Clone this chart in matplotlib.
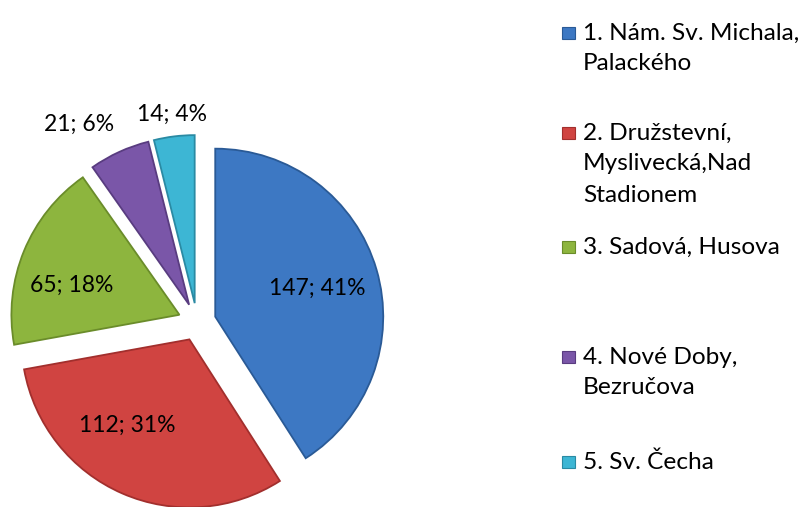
import numpy as np
import matplotlib
matplotlib.use("Agg")
import matplotlib.pyplot as plt
from matplotlib.patches import Rectangle

plt.rcParams['font.family'] = ['Lato', 'DejaVu Sans']

# ---- data ----
categories = ["1. Nám. Sv. Michala,\nPalackého",
              "2. Družstevní,\nMyslivecká,Nad\nStadionem",
              "3. Sadová, Husova",
              "4. Nové Doby,\nBezručova",
              "5. Sv. Čecha"]
values = [147, 112, 65, 21, 14]
percents = [41, 31, 18, 6, 4]
colors = ["#3D78C3", "#D04441", "#8DB53E", "#7A56A8", "#3DB6D4"]
edges = ["#2A5A96", "#A22F2D", "#6A8C2A", "#593C80", "#2A8AA3"]

W, H = 805, 507
fig = plt.figure(figsize=(W / 100, H / 100), dpi=100)

# pie geometry in pixels
cx, cy_top, R = 197, 322, 168
cy = H - cy_top
ax = fig.add_axes([0, 0, 1, 1])
ax.set_axis_off()

explode = [19 / R] * len(values)
wedges, _ = ax.pie(values, colors=colors, startangle=90, counterclock=False,
                   explode=explode, radius=1.0, center=(0, 0),
                   wedgeprops=dict(linewidth=1.3))
for w, ec in zip(wedges, edges):
    w.set_edgecolor(ec)
ax.set_xlim(-cx / R, (W - cx) / R)
ax.set_ylim(-cy / R, (H - cy) / R)
ax.set_aspect('auto')

# data labels
label_r = [0.63, 0.64, 0.66, 1.25, 1.12]
label_adj = [-1.5, -12, 8, 7, 0]
for w, v, p, r, adj in zip(wedges, values, percents, label_r, label_adj):
    mid = np.deg2rad((w.theta1 + w.theta2) / 2 + adj)
    x0, y0 = w.center
    ax.text(x0 + r * np.cos(mid), y0 + r * np.sin(mid) + 0.01, f"{v}; {p}%",
            ha='center', va='center', fontsize=16.5, color='black')

# legend (manual)
first_line_y = [33, 133, 247, 357, 462]
line_step = 31
for lab, col, ec, y in zip(categories, colors, edges, first_line_y):
    fig.patches.append(Rectangle((562 / W, 1 - (y + 6) / H), 13 / W, 12 / H,
                                 transform=fig.transFigure, facecolor=col,
                                 edgecolor=ec, linewidth=0.8))
    for i, line in enumerate(lab.split("\n")):
        fig.text(583 / W, 1 - (y + i * line_step) / H, line,
                 ha='left', va='center', fontsize=17.6, color='black')

fig.savefig("out.png", dpi=100)
